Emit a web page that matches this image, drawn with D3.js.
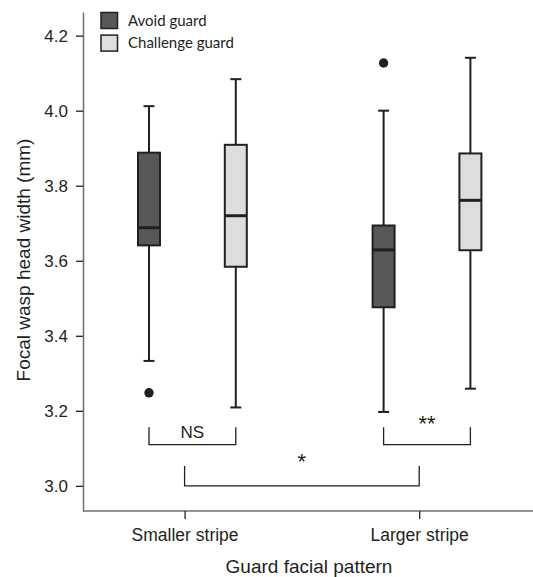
<!DOCTYPE html>
<html>
<head>
<meta charset="utf-8">
<script src="https://cdn.jsdelivr.net/npm/d3@7"></script>
<style>
    body { margin: 0; background: #fff; }
    svg { display: block; font-family: "Liberation Sans", Arial, sans-serif; }
    .legend text { font-family: Lato, "Open Sans", sans-serif; font-size: 15px; fill: #231f20; }
</style>
</head>
<body>
<svg id="chart"></svg>
<script>
const groups = ["Smaller stripe", "Larger stripe"];
const series = ["Avoid guard", "Challenge guard"];
const yTicks = [3.0, 3.2, 3.4, 3.6, 3.8, 4.0, 4.2];

// box order: smaller/avoid, smaller/challenge, larger/avoid, larger/challenge
const lowerWhisker = [3.333, 3.209, 3.197, 3.259];
const q1 = [3.641, 3.584, 3.476, 3.628];
const median = [3.688, 3.720, 3.629, 3.761];
const q3 = [3.888, 3.909, 3.694, 3.886];
const upperWhisker = [4.012, 4.084, 4.000, 4.141];
const outliers = [[3.248], [], [4.127], []];

// significance brackets: box index pairs or group pairs
const bracketLabels = ["NS", "**", "*"];
const bracketLevel = [3.110, 3.110, 3.000];
const bracketTop = [3.156, 3.156, 3.053];

const WIDTH = 533, HEIGHT = 577;
const colors = ["#58585a", "#dcdddf"];
const INK = "#231f20";
const BOX_W = 22, CAP_W = 11;
const DODGE = [-35.6, 51.2];

const svg = d3.select("#chart")
    .attr("width", WIDTH)
    .attr("height", HEIGHT);

const y = d3.scaleLinear()
    .domain([2.933, 4.263])
    .range([511, 12]);

const x = d3.scaleLinear()
    .domain([0, 1])
    .range([184.6, 419.2]);

const boxes = lowerWhisker.map((lo, i) => ({
    group: Math.floor(i / 2),
    s: i % 2,
    lo: lo, q1: q1[i], med: median[i], q3: q3[i], hi: upperWhisker[i],
    out: outliers[i]
}));
boxes.forEach(b => b.cx = x(b.group) + DODGE[b.s]);

// axes
const yAxis = svg.append("g")
    .attr("transform", "translate(83,0)")
    .call(d3.axisLeft(y).tickValues(yTicks).tickFormat(d3.format(".1f")).tickSize(7).tickSizeOuter(0));

const xAxis = svg.append("g")
    .attr("transform", "translate(0,511)")
    .call(d3.axisBottom(x).tickValues([0, 1]).tickFormat(i => groups[i]).tickSize(8).tickSizeOuter(0));

xAxis.select(".domain").attr("d", "M83,0H533");
[yAxis, xAxis].forEach(a => {
    a.select(".domain").attr("stroke", "#6d6e71").attr("stroke-width", 1.5);
    a.selectAll(".tick line").attr("stroke", INK).attr("stroke-width", 1.3);
    a.selectAll("text").attr("fill", "#231f20").attr("font-size", 17)
        .attr("font-family", "'Liberation Sans', Arial, sans-serif");
});
yAxis.selectAll("text").attr("x", -15).attr("dy", "0.35em");
xAxis.selectAll("text").attr("y", 18).attr("dy", "0.71em").attr("font-size", 17.5);

svg.append("text")
    .attr("transform", `translate(30,260) rotate(-90)`)
    .attr("text-anchor", "middle")
    .attr("font-size", 19)
    .attr("fill", INK)
    .text("Focal wasp head width (mm)");

svg.append("text")
    .attr("x", 309)
    .attr("y", 573)
    .attr("text-anchor", "middle")
    .attr("font-size", 19)
    .attr("fill", INK)
    .text("Guard facial pattern");

// boxes
const box = svg.selectAll("g.box")
    .data(boxes)
    .enter()
    .append("g")
    .attr("class", "box");

box.append("line")
    .attr("x1", d => d.cx).attr("x2", d => d.cx)
    .attr("y1", d => y(d.lo)).attr("y2", d => y(d.hi))
    .attr("stroke", INK).attr("stroke-width", 2);

box.selectAll("line.cap")
    .data(d => [d.lo, d.hi].map(v => ({ cx: d.cx, v: v })))
    .enter()
    .append("line")
    .attr("class", "cap")
    .attr("x1", d => d.cx - CAP_W / 2).attr("x2", d => d.cx + CAP_W / 2)
    .attr("y1", d => y(d.v)).attr("y2", d => y(d.v))
    .attr("stroke", INK).attr("stroke-width", 2);

box.append("rect")
    .attr("x", d => d.cx - BOX_W / 2)
    .attr("width", BOX_W)
    .attr("y", d => y(d.q3))
    .attr("height", d => y(d.q1) - y(d.q3))
    .attr("fill", d => colors[d.s])
    .attr("stroke", INK).attr("stroke-width", 2);

box.append("line")
    .attr("x1", d => d.cx - BOX_W / 2).attr("x2", d => d.cx + BOX_W / 2)
    .attr("y1", d => y(d.med)).attr("y2", d => y(d.med))
    .attr("stroke", INK).attr("stroke-width", 3);

box.selectAll("circle")
    .data(d => d.out.map(v => ({ cx: d.cx, v: v })))
    .enter()
    .append("circle")
    .attr("cx", d => d.cx)
    .attr("cy", d => y(d.v))
    .attr("r", 4.7)
    .attr("fill", INK);

// significance brackets
const bracketEnds = [
    [boxes[0].cx, boxes[1].cx],
    [boxes[2].cx, boxes[3].cx],
    [x(0), x(1)]
];
const labelLift = [7, 14, 17];
const labelSize = [17, 22, 22];

bracketLabels.forEach(function (label, i) {
    const [x1, x2] = bracketEnds[i];
    const yl = y(bracketLevel[i]), yt = y(bracketTop[i]);
    svg.append("path")
        .attr("d", `M${x1},${yt}V${yl}H${x2}V${yt}`)
        .attr("fill", "none")
        .attr("stroke", INK)
        .attr("stroke-width", 1.3);
    svg.append("text")
        .attr("x", (x1 + x2) / 2)
        .attr("y", yl - labelLift[i])
        .attr("text-anchor", "middle")
        .attr("font-size", labelSize[i])
        .attr("fill", INK)
        .text(label);
});

// legend
const legend = svg.append("g")
    .attr("class", "legend")
    .selectAll("g")
    .data(series)
    .enter()
    .append("g")
    .attr("transform", (d, i) => `translate(101,${12.5 + i * 22.6})`);

legend.append("rect")
    .attr("width", 16.5)
    .attr("height", 16)
    .attr("fill", (d, i) => colors[i])
    .attr("stroke", INK)
    .attr("stroke-width", 1.5);

legend.append("text")
    .attr("x", 27)
    .attr("y", 13.3)
    .text(d => d);
</script>
</body>
</html>
